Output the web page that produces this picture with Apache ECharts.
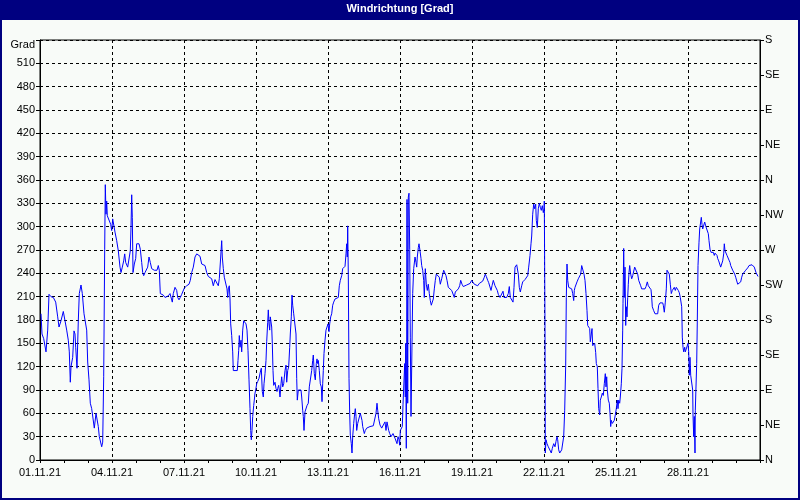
<!DOCTYPE html>
<html>
<head>
<meta charset="utf-8">
<script src="https://cdn.jsdelivr.net/npm/echarts@6/dist/echarts.min.js"></script>
<style>
html,body{margin:0;padding:0;background:#f8fbf8;}
#c{width:800px;height:500px;}
</style>
</head>
<body>
<div id="c"></div>
<script>
// Tick labels
var dateLabels = ['01.11.21','04.11.21','07.11.21','10.11.21','13.11.21','16.11.21','19.11.21','22.11.21','25.11.21','28.11.21'];
var compassLabels = ['N','NE','E','SE','S','SW','W','NW','N','NE','E','SE','S'];

// Hours since 01.11.21 00:00 and wind direction [Grad], in four stretches
var hoursA = [1,2,3.7,5,6,7.7,9,11,13.3,15.7,
17.7,19,21,23.3,25,26.7,28.3,29.3,30.3,31,
32.7,34,35,35.7,37,38.3,39.3,41,42.3,44,
45.7,46.7,47.7,49,50.3,51.7,53.3,54.3,56,57.3,
58.3,59.3,60.7,61.7,62.7,63.7,64.7,65.3,66,66.7,
67.3,69,70.7,71.7,72.7,73.7,75,76.7,78.3,80,
81,82.3,83.7,84.7,85.7,87.7,89.3,90.3,91,91.7,
92.3,93,94.3,95.7,96.7,97.7,99,100.3,101.7,102.7,
103.7,105,106.3,107.7,109,110.3,111.7,113.3,114.3,115.7,
117,118.3,119.3,120.3,121.7,123.3,125,126.7,128.3,130,
131.7,132.3,133.3,135,136.7,137.7,139,140.3,141.7,143.3,
144.3,146.7,149,150.3,151.7,153.3,155,156.7,158.3,160,
161.7,163.3,165,166.7,168.3,170,171.7,173.3,175];
var dirA = [188,162,156,156,139,167,213,210,209,203,
184,171,179,191,179,167,154,139,100,120,
132,166,162,145,118,179,214,225,214,188,
186,167,126,103,73,66,66,41,60,60,
43,30,28,17,23,107,271,354,316,333,
314,312,303,295,310,312,293,282,269,248,
241,248,256,265,254,248,246,269,299,341,
312,241,252,259,278,280,278,271,254,241,
237,241,243,248,261,254,246,248,244,246,
244,250,244,214,213,212,209,208,211,214,
216,203,214,222,218,209,206,209,213,213,
221,224,226,231,241,248,261,265,266,262,
252,250,250,241,236,237,233,224,232];

var hoursB = [178.3,179.3,180.7,181.7,182.3,183.3,184.3,186,187,187.7,
188.3,189.3,190,190.7,191.7,192.7,193.3,195,197.3,198,
198.7,199.3,200,201,201.7,202.7,203.7,205,206,207,
208,209,210,210.7,211.3,212,212.7,213.7,214.3,215,
215.7,216.7,217.7,219,220.3,221.3,222.3,223.3,224,225,
226,226.7,227.7,228.3,229,229.7,230.3,231,231.7,232.3,
233,233.7,234.3,235,236,237,237.7,238.7,239.3,240,
241,241.7,242.7,243.7,245,246,246.7,247.7,248.7,249.7,
250.3,251.3,252,252.7,253.7,255,256,256.7,257.3,258.3,
261,261.7,262.7,263.3,264,265,266,267,268.3,269.3,
270.3,271.7,272.7,273.3,274.3,275.3,276.3,277,277.7,278.3,
279.3,280.3,281.3,282,282.7,283.3,284,285,286,287,
288,289,289.7,290.7,291.7,292.7,293.7,295,296.3,298.3,
299.3,300.3,301.7,302.7,303.7,305,306,306.7,307.3,307.7,
308.3,309,309.7,310.3,311.3,312,312.7,313.7,314.7,315.3,
316,316.7,317.7,318.7,319.7,320.3,321.3,322,322.7,323.3,
324.3,325.3,326.7,328.3,330,331.7,333.3,335,336,337,
337.7,338.7,340,341.7,343.3,345,346,347,347.7,348.7,
349.7,351,352,353,354,355];
var dirB = [224,233,261,282,261,246,235,233,220,209,
220,224,207,175,160,139,115,115,115,128,
141,160,145,154,139,167,179,179,175,167,
141,103,66,38,26,38,56,70,77,86,
90,98,101,105,113,118,88,81,98,111,
128,152,177,193,175,167,184,186,171,150,
115,96,94,100,92,88,92,96,90,81,
98,107,94,98,115,122,100,115,120,145,
162,184,212,199,188,188,162,105,77,90,
90,81,64,56,38,62,64,70,73,94,
92,115,128,135,111,103,124,130,124,128,
115,98,94,75,98,115,137,154,167,171,
175,165,175,184,188,199,203,207,209,209,
224,231,237,246,248,249,265,278,261,301,
239,105,60,32,21,9,30,47,60,66,
56,38,47,45,47,60,60,51,43,41,
34,38,41,43,43,45,44,45,60,73,
64,53,45,41,45,49,38,49,47,38,
34,30,32,34,32,28];

var hoursC = [356,357,358,359,359.7,360.3,361.3,362.3,363,364,
364.7,365.3,365.7,366.3,366.7,367,367.7,368.3,369,369.7,
370.3,371,371.7,372.7,373.7,375,376,376.7,377.3,378.3,
379,380,381,381.7,382.7,383.7,384.3,385.3,386.3,387.3,
388.3,389.3,390.3,391.3,392.3,393.3,394.3,395.3,396.3,397.3,
398.3,399.3,400.3,401.7,402.7,403.7,405,406,407,408.3,
410,411.7,413.3,414.3,415.3,416.7,418.3,419.7,420.7,422,
423.3,425,426.7,428.3,430,431.7,432.7,434.3,436,437.7,
439.3,441,442.7,444.3,445.3,446.3,447.7,448.7,450,451,
452,453.3,455,456.3,457.3,458.3,460,461.7,463,464,
465,466.7,468.3,469.3,470.3,471.7,473,474,475,476.7,
477.7,478.3,479.3,480.3,481.7,482.7,483.7,485,486.3,487.7,
488.7,490,491,491.7,492.7,493.7,494.7,495.7,496.3,497.3,
498.3,499.3,500.3,501.3,502.3,503.3,504,504.3,505,505.3,
506,507,508.3,509.3,510.3,511.3,512.3,513.7,515,516,
517,517.7,518.7,519.7,520.7,521.7,522.7,523.7,524.7,525.7,
526.3,527,527.7,528.7,529.7,530.7,531.7,532.7,533.7,534.3,
535];
var dirC = [28,21,30,26,19,38,36,43,71,71,
124,81,150,15,150,335,73,338,343,271,
158,56,120,214,246,261,254,248,261,273,
278,269,259,250,244,231,209,246,226,218,
226,214,205,199,203,207,220,231,239,240,
241,235,226,233,235,244,244,237,231,222,
221,218,218,209,216,218,220,224,231,226,
223,224,225,226,227,231,230,226,224,224,
227,229,230,235,239,236,231,228,226,218,
224,231,224,222,218,213,209,209,217,209,
211,209,214,223,209,211,203,222,248,251,
250,239,222,216,224,229,231,232,231,237,
248,263,278,288,316,329,323,329,308,299,
323,330,325,321,327,318,323,333,169,9,
26,21,17,19,17,9,15,21,17,24,
30,26,13,9,11,13,15,30,64,122,
209,252,231,222,222,222,220,214,205,218,
222];

var hoursD = [536,537,538.3,539.7,540.7,541.7,543,544,545,546,
547,547.7,548.7,549.7,550.3,551.3,552,552.7,553.7,554.7,
555.7,556.3,557.3,558,558.7,559.7,560.3,561.3,562.3,563.3,
564.3,565.3,566,566.7,567.3,568.3,569.3,570,570.7,571.3,
572.3,573.3,574.3,575.3,576.3,577.3,578,578.7,579.7,580.3,
581.3,582,582.7,583,583.7,584.3,585,585.7,586.3,587,
587.7,588.3,589,589.7,590.7,591.7,592.7,593.7,594.7,595.7,
596.7,597.7,598.7,599.7,600.7,601.7,602.7,603.7,605,606,
607.3,608.3,610,611,611.7,612.3,613.7,615,616.3,617.7,
618.7,620,622.7,623.3,624.3,625.3,626.3,627,628.3,629.3,
630.3,631.3,632.3,633.3,634.3,635.3,636.3,637.3,638.3,639.3,
640.3,641,641.7,642,642.3,643,643.7,644.7,645.3,646.3,
647.3,648,648.7,649.3,650,650.7,651.7,652.7,653,653.7,
654.3,655,655.3,656,656.7,657.3,658,659,659.7,660.7,
661.3,662,662.7,663.7,664.7,665.7,666.7,667.7,668.3,669,
670,671,672.3,673.3,674.3,675,676,677,677.7,678.7,
679.7,680.7,681.7,682.7,683.7,684.3,685,686,687,688,
689,690,690.7,691.7,692.7,693.7,694.7,695.7,696.7,697.7,
699.3,700.7,701.7,702.7,704,705.7,707.7,709,710.7,712,
713.3,714.3,716,718];
var dirD = [222,229,233,233,239,250,250,239,231,214,
192,173,175,169,152,154,169,147,147,150,
138,124,120,92,66,58,77,81,86,83,
98,111,94,107,90,77,73,60,43,51,
47,45,51,58,66,77,66,77,73,81,
98,118,167,201,272,209,248,173,197,184,
209,226,241,250,239,233,237,239,248,250,
246,239,231,229,224,220,220,218,220,223,
229,224,222,219,209,197,192,188,186,188,
199,202,202,199,190,203,220,244,244,239,
226,214,218,220,222,218,222,220,218,215,
209,207,197,179,158,145,139,145,139,139,
141,150,139,109,132,109,107,90,58,30,
56,9,64,66,124,179,250,280,297,299,
312,303,297,295,306,301,297,298,291,282,
271,267,265,267,263,266,267,263,259,256,
252,248,250,256,265,278,269,269,263,261,
257,254,250,252,244,244,239,235,233,226,
226,229,235,239,241,244,247,250,251,251,
252,248,241,236];

var hours = hoursA.concat(hoursB, hoursC, hoursD);
var windDir = dirA.concat(dirB, dirC, dirD);
if (hours.length !== windDir.length) {
  throw new Error('length mismatch ' + hours.length + ' vs ' + windDir.length);
}
var seriesData = hours.map(function (h, i) { return [h, windDir[i]]; });

var FONT = "'Liberation Sans', Arial, sans-serif";
var NAVY = '#000080';

var chart = echarts.init(document.getElementById('c'), null, {renderer: 'canvas'});
chart.setOption({
  animation: false,
  backgroundColor: '#f8fbf8',
  textStyle: {fontFamily: FONT},
  graphic: [
    {type: 'rect', shape: {x: 0, y: 0, width: 800, height: 20}, style: {fill: NAVY}, z: 10},
    {type: 'rect', shape: {x: 1, y: 1, width: 798, height: 498}, style: {fill: 'none', stroke: NAVY, lineWidth: 2}, z: 10},
    {type: 'text', left: 'center', top: 3, z: 11,
      style: {text: 'Windrichtung [Grad]', fill: '#ffffff', font: 'bold 11px ' + FONT}}
  ],
  grid: {left: 40, right: 40, top: 40, bottom: 40, show: true, borderColor: '#000', borderWidth: 1, backgroundColor: 'transparent'},
  xAxis: {
    type: 'value', min: 0, max: 720, interval: 72,
    axisLine: {show: true, onZero: false, lineStyle: {color: '#000', width: 1}},
    axisTick: {show: true, length: 3, lineStyle: {color: '#000'}},
    minorTick: {show: true, splitNumber: 3, length: 3, lineStyle: {color: '#000'}},
    splitLine: {show: true, lineStyle: {color: '#000', type: [3, 3], width: 1}},
    axisLabel: {
      color: '#000', fontSize: 11, margin: 7, fontFamily: FONT, showMaxLabel: false,
      formatter: function (v) { var i = Math.round(v / 72); return dateLabels[i] || ''; }
    }
  },
  yAxis: [
    {
      type: 'value', min: 0, max: 540, interval: 30, position: 'left',
      axisLine: {show: true, lineStyle: {color: '#000'}},
      axisTick: {show: true, length: 4, lineStyle: {color: '#000'}},
      splitLine: {show: true, lineStyle: {color: '#000', type: [3, 3], width: 1}},
      axisLabel: {
        color: '#000', fontSize: 11, margin: 5, fontFamily: FONT,
        formatter: function (v) { return v === 540 ? '{g|Grad}' : String(v); },
        rich: {g: {fontSize: 11, color: '#000', fontFamily: FONT, padding: [10, 0, 0, 0]}}
      }
    },
    {
      type: 'value', min: 0, max: 540, interval: 45, position: 'right',
      axisLine: {show: true, lineStyle: {color: '#000'}},
      axisTick: {show: true, length: 4, lineStyle: {color: '#000'}},
      splitLine: {show: false},
      axisLabel: {
        color: '#000', fontSize: 11, margin: 5, fontFamily: FONT,
        formatter: function (v) { return compassLabels[Math.round(v / 45)] || ''; }
      }
    }
  ],
  series: [{
    type: 'line', data: seriesData, yAxisIndex: 0,
    showSymbol: false, symbol: 'none', smooth: false, sampling: null,
    lineStyle: {color: '#0000ff', width: 1},
    itemStyle: {color: '#0000ff'}
  }]
});
</script>
</body>
</html>
